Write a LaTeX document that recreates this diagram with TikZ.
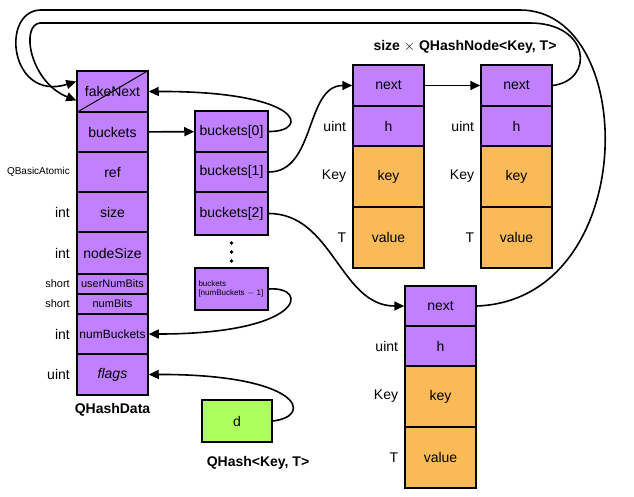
\documentclass[tikz,border=0pt]{standalone}
\usepackage{fontspec}
\setmainfont{Liberation Sans}
\usepackage{xcolor}
\definecolor{cell-purple}{RGB}{192,128,255}
\definecolor{cell-orange}{RGB}{251,186,88}
\definecolor{cell-green}{RGB}{172,255,92}
\usetikzlibrary{positioning,arrows.meta}

\begin{document}
\begin{tikzpicture}[
    x=1pt, y=-1pt,
    every node/.style={inner sep=0pt},
    cell/.style={draw, line width=1.5pt, fill=cell-purple, minimum width=71pt,
        font=\fontsize{14}{16}\selectfont, align=center},
    vcell/.style={cell, fill=cell-orange},
    tlabel/.style={anchor=east, font=\fontsize{14}{16}\selectfont},
    ptr/.style={line width=1.6pt, -{Triangle[length=10pt,width=9pt]}},
    title/.style={font=\fontsize{14}{16}\selectfont\bfseries}
]
\useasboundingbox (0,0) rectangle (634,496);

% QHashData column
\node[cell, minimum height=41pt] (fakeNext) at (112.5,91.5) {fakeNext};
\node[cell, minimum height=40pt] (buckets) at (112.5,132) {buckets};
\node[cell, minimum height=40pt] (ref) at (112.5,172) {ref};
\node[cell, minimum height=40pt] (size) at (112.5,212) {size};
\node[cell, minimum height=42pt] (nodeSize) at (112.5,253) {nodeSize};
\node[cell, minimum height=20pt, font=\fontsize{11}{13}\selectfont] (userNumBits) at (112.5,284) {userNumBits};
\node[cell, minimum height=20pt, font=\fontsize{11}{13}\selectfont] (numBits) at (112.5,304) {numBits};
\node[cell, minimum height=40pt, font=\fontsize{12}{14}\selectfont] (numBuckets) at (112.5,334) {numBuckets};
\node[cell, minimum height=41pt, font=\fontsize{14}{16}\selectfont\itshape] (flags) at (112.5,374.5) {flags};
\draw[line width=1pt] (fakeNext.south west) -- (fakeNext.north east);
\node[title] (dataName) at (112.5,410) {QHashData};

\node[tlabel, font=\fontsize{10}{12}\selectfont] (tRef) at (70,172) {QBasicAtomic};
\node[tlabel] (tSize) at (70,212) {int};
\node[tlabel] (tNodeSize) at (70,253) {int};
\node[tlabel, font=\fontsize{11}{13}\selectfont] (tUser) at (70,284) {short};
\node[tlabel, font=\fontsize{11}{13}\selectfont] (tNumBits) at (70,304) {short};
\node[tlabel] (tNumBuckets) at (70,334) {int};
\node[tlabel] (tFlags) at (70,374.5) {uint};

% bucket array
\node[cell, minimum width=73pt, minimum height=41pt] (b0) at (231.5,131.5) {buckets[0]};
\node[cell, minimum width=73pt, minimum height=40pt] (b1) at (231.5,172) {buckets[1]};
\node[cell, minimum width=73pt, minimum height=43pt] (b2) at (231.5,213.5) {buckets[2]};
\foreach \y in {243,252,261} \fill (231.5,\y) circle (1.8pt);
\node[cell, minimum width=73pt, minimum height=42pt, font=\fontsize{8}{9}\selectfont, align=left,
    text width=66pt] (bLast) at (231.5,289)
    {buckets\\{[}numBuckets $-$ 1{]}};

% hash nodes
\node[title] (nodeTitle) at (465,47) {size $\times$ QHashNode<Key, T>};
\foreach \n/\x in {n1/388.5, n2/516.5} {
    \node[cell, minimum height=41pt] (\n next) at (\x,85.5) {next};
    \node[cell, minimum height=40pt] (\n h) at (\x,126) {h};
    \node[vcell, minimum height=61pt] (\n key) at (\x,176.5) {key};
    \node[vcell, minimum height=61pt] (\n value) at (\x,237.5) {value};
    \node[tlabel] at ([xshift=-6pt]\n h.west) {uint};
    \node[tlabel] at ([xshift=-6pt]\n key.west) {Key};
    \node[tlabel] at ([xshift=-6pt]\n value.west) {T};
}
\node[cell, minimum height=40pt] (n3next) at (440.5,306) {next};
\node[cell, minimum height=40pt] (n3h) at (440.5,346) {h};
\node[vcell, minimum height=61pt] (n3key) at (440.5,396.5) {key};
\node[vcell, minimum height=61pt] (n3value) at (440.5,457.5) {value};
\node[tlabel] (tN3h) at ([xshift=-6pt]n3h.west) {uint};
\node[tlabel] (tN3key) at ([xshift=-6pt]n3key.west) {Key};
\node[tlabel] (tN3value) at ([xshift=-6pt]n3value.west) {T};

% QHash
\node[cell, fill=cell-green, minimum width=70pt, minimum height=42pt] (d) at (237,421) {d};
\node[title] (hashName) at (258,463) {QHash<Key, T>};

% pointers
\coordinate (topInner) at (40,23);
\coordinate (topOuter) at (40,10);
\draw[ptr] (buckets) -- (b0);
\draw[ptr] (n1next) -- (n2next);
\draw[ptr] (b0.east) .. controls (310,132) and (305,91) .. (fakeNext.east);
\draw[ptr] (b1.east) to[out=0,in=180] (n1next.west);
\draw[ptr] (b2.east) to[out=0,in=180] (n3next.west);
\draw[ptr] (bLast.east) .. controls (310,286) and (305,334) .. (numBuckets.east);
\draw[ptr] (d.east) .. controls (315,416) and (300,374) .. (flags.east);
\draw[ptr] (n2next.east) .. controls (595,80) and (590,23) .. (530,23) -- (topInner)
    .. controls (20,25) and (30,82) .. ([yshift=-9pt]fakeNext.west);
\draw[ptr] (n3next.east) .. controls (640,300) and (640,10) .. (520,10) -- (topOuter)
    .. controls (0,12) and (10,102) .. ([yshift=10pt]fakeNext.west);

\end{tikzpicture}
\end{document}
